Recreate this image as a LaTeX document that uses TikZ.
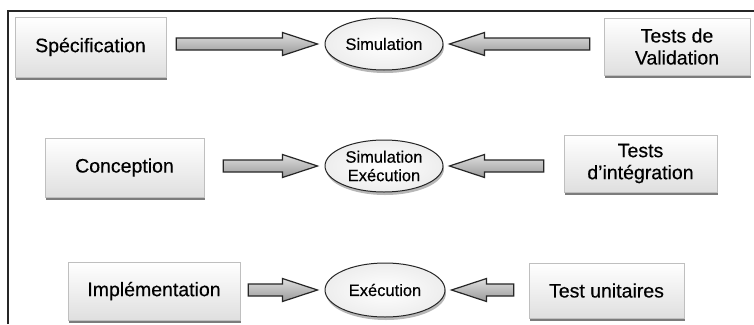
\documentclass[tikz,border=0pt]{standalone}
\usepackage{fontspec}
\setmainfont{Liberation Sans}
\newfontfamily\heavyish{Liberation Sans}[FakeBold=0.4]
\usetikzlibrary{shadows,calc,shapes.geometric}
\tikzset{
  x=1pt,y=1pt,
  boxstyle/.style={rectangle, draw=gray!50, line width=0.6pt, top color=white, bottom color=gray!25,
    drop shadow={shadow xshift=1.2pt, shadow yshift=-2.5pt, fill=black!60, opacity=0.85},
    font=\heavyish\fontsize{19.5}{22}\selectfont, align=center, inner sep=0pt},
  ellstyle/.style={ellipse, draw=black!85, line width=1pt, inner color=white, outer color=gray!14,
    drop shadow={shadow xshift=1pt, shadow yshift=-3pt, fill=black!40, opacity=0.7},
    font=\heavyish\fontsize{16.5}{18.5}\selectfont, align=center, inner sep=0pt},
  blockarr/.style={draw=black!85, line width=1.2pt, line join=miter, top color=gray!25, bottom color=gray!80},
  framestyle/.style={draw=black!85, line width=1.2pt}
}
% #1 tail point, #2 tip point, #3 signed head length
\newcommand\blockarrow[3]{%
  \path[blockarr] let \p1=(#1), \p2=(#2) in
    (\x1,\y2+6) -- (\x2-#3,\y2+6) -- (\x2-#3,\y2+11.5) -- (\x2,\y2)
    -- (\x2-#3,\y2-11.5) -- (\x2-#3,\y2-6) -- (\x1,\y2-6) -- cycle;}
\begin{document}
\begin{tikzpicture}
\useasboundingbox[fill=white] (0,0) rectangle (754,-324);
\coordinate (fc) at (8,-324);
\coordinate (ft) at (8,-11);
\coordinate (fr) at (754,-11);
\draw[framestyle] (fc) -- (ft) -- (fr);

% row 1
\node[boxstyle, minimum width=151, minimum height=60] (spec) at (90.5,-47) {Spécification};
\node[ellstyle, minimum width=118, minimum height=52] (sim) at (384,-44) {Simulation};
\node[boxstyle, minimum width=146, minimum height=57] (tval) at (677,-46.5) {Tests de\\Validation};
% row 2
\node[boxstyle, minimum width=159, minimum height=59] (conc) at (124.5,-167.5) {Conception};
\node[ellstyle, minimum width=118, minimum height=52] (simex) at (384,-166) {Simulation\\Exécution};
\node[boxstyle, minimum width=153, minimum height=57] (tint) at (640.5,-163.5) {Tests\\d’intégration};
% row 3
\node[boxstyle, minimum width=172, minimum height=58] (impl) at (154,-291) {Implémentation};
\node[ellstyle, minimum width=120, minimum height=54] (exe) at (385,-290) {Exécution};
\node[boxstyle, minimum width=155, minimum height=55] (tuni) at (606.5,-290.5) {Test unitaires};

% arrows
\blockarrow{[xshift=10]spec.east}{[xshift=-7]sim.west}{35}
\blockarrow{[xshift=-14]tval.west}{[xshift=6]sim.east}{-35}
\blockarrow{[xshift=19]conc.east}{[xshift=-7]simex.west}{35}
\blockarrow{[xshift=-20]tint.west}{[xshift=6]simex.east}{-35}
\blockarrow{[xshift=8]impl.east}{[xshift=-7]exe.west}{35}
\blockarrow{[xshift=-15]tuni.west}{[xshift=6]exe.east}{-35}
\end{tikzpicture}
\end{document}
